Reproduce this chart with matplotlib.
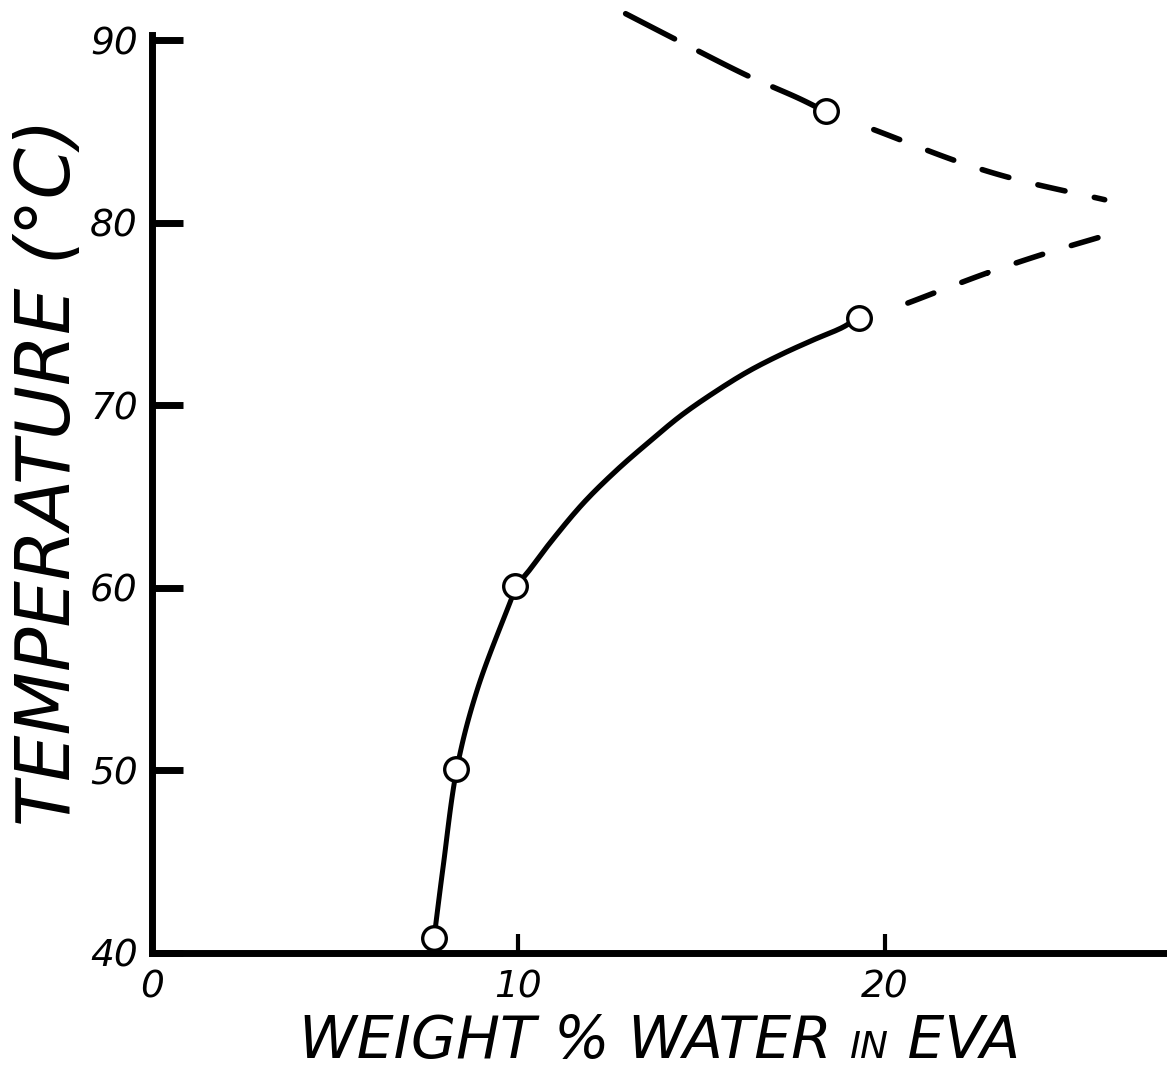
import numpy as np
import matplotlib.pyplot as plt
from matplotlib.offsetbox import TextArea, HPacker, AnnotationBbox

# measured points (weight % water, temperature)
water_pts = [7.7, 8.3, 9.9, 19.3]
temp_pts = [40.8, 50.1, 60.1, 74.8]
water_hi = [18.4]
temp_hi = [86.1]

# solid curve, in two pen strokes
low_x = [7.70, 7.95, 8.33, 8.88, 9.95]
low_y = [40.77, 44.71, 50.14, 54.41, 60.11]
high_x = [9.95, 10.27, 10.87, 11.78, 12.70, 13.61, 14.43, 15.33, 16.26, 17.16, 18.06, 18.88, 19.30]
high_y = [60.11, 60.88, 62.47, 64.65, 66.47, 68.06, 69.42, 70.68, 71.84, 72.77, 73.59, 74.30, 74.85]

# dashed branches
upper_l_x = [12.93, 14.48, 16.26, 17.68, 18.39]
upper_l_y = [91.45, 89.85, 88.05, 86.79, 86.08]
upper_r_x = [19.7, 22.08, 23.61, 26.0]
upper_r_y = [85.1, 83.29, 82.36, 81.26]
lower_x = [20.63, 22.81, 24.45, 25.9]
lower_y = [75.6, 77.26, 78.36, 79.23]

xticks = [0, 10, 20]
yticks = [40, 50, 60, 70, 80, 90]


def smooth(xs, ys, sx=36.6, sy=18.25, n=20):
    # centripetal catmull-rom through the traced points (in pixel-ish space)
    P = np.column_stack([np.array(xs) * sx, np.array(ys) * sy])
    P = np.vstack([2 * P[0] - P[1], P, 2 * P[-1] - P[-2]])
    out = []
    for i in range(1, len(P) - 2):
        p0, p1, p2, p3 = P[i - 1:i + 3]
        t0 = 0.0
        t1 = t0 + np.linalg.norm(p1 - p0) ** 0.5
        t2 = t1 + np.linalg.norm(p2 - p1) ** 0.5
        t3 = t2 + np.linalg.norm(p3 - p2) ** 0.5
        t = np.linspace(t1, t2, n)[:, None]
        a1 = (t1 - t) / (t1 - t0) * p0 + (t - t0) / (t1 - t0) * p1
        a2 = (t2 - t) / (t2 - t1) * p1 + (t - t1) / (t2 - t1) * p2
        a3 = (t3 - t) / (t3 - t2) * p2 + (t - t2) / (t3 - t2) * p3
        b1 = (t2 - t) / (t2 - t0) * a1 + (t - t0) / (t2 - t0) * a2
        b2 = (t3 - t) / (t3 - t1) * a2 + (t - t1) / (t3 - t1) * a3
        out.append((t2 - t) / (t2 - t1) * b1 + (t - t1) / (t2 - t1) * b2)
    C = np.vstack(out)
    return C[:, 0] / sx, C[:, 1] / sy


fnt = 'DejaVu Sans'

fig = plt.figure(figsize=(11.67, 10.78), dpi=100)
ax = fig.add_axes([0.130, 0.116, 0.870, 0.884])

ax.plot(*smooth(low_x, low_y), color='black', lw=3.6, solid_capstyle='round')
ax.plot(*smooth(high_x, high_y), color='black', lw=3.8, solid_capstyle='round')
ax.plot(*smooth(upper_l_x, upper_l_y), color='black', lw=4, dashes=(9.9, 4.9), dash_capstyle='round')
ax.plot(*smooth(upper_r_x, upper_r_y), color='black', lw=4, dashes=(5, 5.4), dash_capstyle='round')
ax.plot(*smooth(lower_x, lower_y), color='black', lw=4, dashes=(5, 5.4), dash_capstyle='round')

ax.plot(water_pts, temp_pts, 'o', ms=17, mfc='white', mec='black', mew=2.4, zorder=5, clip_on=False)
ax.plot(water_hi, temp_hi, 'o', ms=17, mfc='white', mec='black', mew=2.4, zorder=5)

ax.set_xlim(0, 27.7)
ax.set_ylim(40, 92.2)
ax.set_xticks(xticks)
ax.set_yticks(yticks)
ax.set_xticklabels([str(t) for t in xticks], fontsize=27, style='italic', family=fnt)
ax.set_yticklabels([str(t) for t in yticks], fontsize=27, style='italic', family=fnt)

for s in ['top', 'right']:
    ax.spines[s].set_visible(False)
ax.spines['left'].set_linewidth(5)
ax.spines['bottom'].set_linewidth(5)
ax.spines['left'].set_bounds(40, 90.3)
ax.spines['bottom'].set_capstyle('projecting')
ax.spines['left'].set_capstyle('projecting')

ax.tick_params(axis='y', direction='in', length=22, width=5, pad=10)
ax.tick_params(axis='x', direction='in', length=14, width=3, pad=12)

ax.set_ylabel('TEMPERATURE (°C)', fontsize=53, style='italic', family=fnt)
ax.yaxis.set_label_coords(-0.066, 0.505)

# x label with a smaller "IN"
tp_big = dict(fontsize=42, style='italic', family=fnt)
tp_small = dict(fontsize=27, style='italic', family=fnt)
box = HPacker(children=[TextArea('WEIGHT % WATER ', textprops=tp_big),
                        TextArea('IN', textprops=tp_small),
                        TextArea(' EVA', textprops=tp_big)],
              align='baseline', pad=0, sep=0)
ab = AnnotationBbox(box, (0.5, -0.093), xycoords='axes fraction',
                    box_alignment=(0.5, 0.5), frameon=False)
ax.add_artist(ab)

fig.savefig('out.png', dpi=100)
